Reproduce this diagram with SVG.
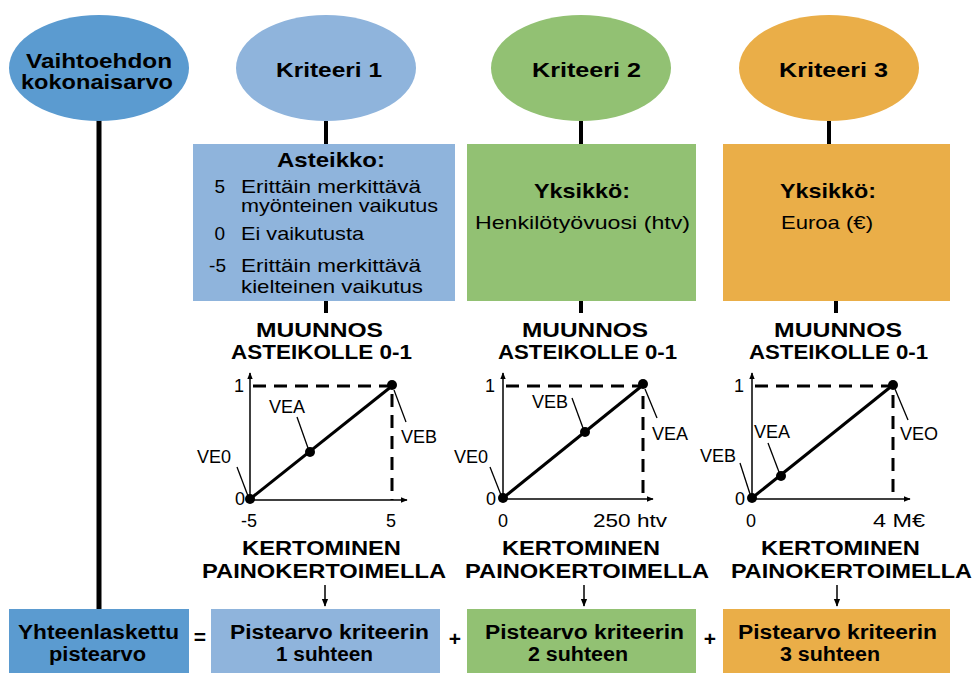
<svg xmlns="http://www.w3.org/2000/svg" width="973" height="673" viewBox="0 0 973 673">
<defs>
<style>
text{font-family:"Liberation Sans",Arial,sans-serif;fill:#000}
.b{font-weight:bold;font-size:21px}
.bb{font-weight:bold;font-size:20px}
.r{font-size:19px}
.g{font-size:18px}
.c0{fill:#5B9BD0}
.c1{fill:#8FB4DC}
.c2{fill:#92C173}
.c3{fill:#EAAE48}
.conn{stroke:#000;stroke-width:4;fill:none}
.ax{stroke:#000;stroke-width:1.5;fill:none}
.dash{stroke:#000;stroke-width:3;stroke-dasharray:13 8;fill:none}
.diag{stroke:#000;stroke-width:3}
.lead{stroke:#000;stroke-width:1.3}
</style>
<marker id="ah" viewBox="0 0 10 10" refX="9" refY="5" markerWidth="7" markerHeight="7" orient="auto" markerUnits="userSpaceOnUse">
<path d="M0,1 L10,5 L0,9 Z" fill="#000"/>
</marker>
<marker id="ah2" viewBox="0 0 10 10" refX="9" refY="5" markerWidth="8" markerHeight="8" orient="auto" markerUnits="userSpaceOnUse">
<path d="M0,1 L10,5 L0,9 Z" fill="#000"/>
</marker>
</defs>

<g id="connectors">
<line class="conn" x1="99" y1="120" x2="99" y2="610" style="stroke-width:5"/>
<line class="conn" x1="326" y1="121" x2="326" y2="144"/>
<line class="conn" x1="326" y1="301" x2="326" y2="313"/>
<line class="conn" x1="581" y1="121" x2="581" y2="144"/>
<line class="conn" x1="581" y1="301" x2="581" y2="313"/>
<line class="conn" x1="829" y1="121" x2="829" y2="144"/>
<line class="conn" x1="836" y1="301" x2="836" y2="313"/>
<line class="ax" x1="325" y1="585" x2="325" y2="606" marker-end="url(#ah2)"/>
<line class="ax" x1="584" y1="585" x2="584" y2="606" marker-end="url(#ah2)"/>
<line class="ax" x1="837" y1="585" x2="837" y2="606" marker-end="url(#ah2)"/>
</g>

<g id="n-vaihtoehdon">
<ellipse class="c0" cx="99" cy="68" rx="90" ry="53"/>
<text class="b" x="26" y="68" textLength="146" lengthAdjust="spacingAndGlyphs">Vaihtoehdon</text>
<text class="b" x="21" y="89" textLength="152" lengthAdjust="spacingAndGlyphs">kokonaisarvo</text>
</g>
<g id="n-kriteeri1">
<ellipse class="c1" cx="326" cy="68" rx="90" ry="53"/>
<text class="b" x="276" y="77" textLength="106" lengthAdjust="spacingAndGlyphs">Kriteeri 1</text>
</g>
<g id="n-kriteeri2">
<ellipse class="c2" cx="581" cy="68" rx="90" ry="53"/>
<text class="b" x="532" y="77" textLength="109" lengthAdjust="spacingAndGlyphs">Kriteeri 2</text>
</g>
<g id="n-kriteeri3">
<ellipse class="c3" cx="829" cy="68" rx="90" ry="53"/>
<text class="b" x="779" y="77" textLength="109" lengthAdjust="spacingAndGlyphs">Kriteeri 3</text>
</g>

<g id="n-asteikko">
<rect class="c1" x="193" y="144" width="262" height="157"/>
<text class="b" x="277" y="167" textLength="108" lengthAdjust="spacingAndGlyphs">Asteikko:</text>
<text class="r" x="225" y="193" text-anchor="end">5</text>
<text class="r" x="241" y="193" textLength="180" lengthAdjust="spacingAndGlyphs">Erittäin merkittävä</text>
<text class="r" x="241" y="212" textLength="197" lengthAdjust="spacingAndGlyphs">myönteinen vaikutus</text>
<text class="r" x="225" y="240" text-anchor="end">0</text>
<text class="r" x="241" y="240" textLength="123" lengthAdjust="spacingAndGlyphs">Ei vaikutusta</text>
<text class="r" x="226" y="272" text-anchor="end">-5</text>
<text class="r" x="241" y="272" textLength="180" lengthAdjust="spacingAndGlyphs">Erittäin merkittävä</text>
<text class="r" x="241" y="293" textLength="182" lengthAdjust="spacingAndGlyphs">kielteinen vaikutus</text>
</g>
<g id="n-yksikko2">
<rect class="c2" x="467" y="144" width="229" height="157"/>
<text class="b" x="534" y="198" textLength="96" lengthAdjust="spacingAndGlyphs">Yksikkö:</text>
<text class="r" x="475" y="229" textLength="215" lengthAdjust="spacingAndGlyphs">Henkilötyövuosi (htv)</text>
</g>
<g id="n-yksikko3">
<rect class="c3" x="723" y="144" width="227" height="157"/>
<text class="b" x="780" y="198" textLength="96" lengthAdjust="spacingAndGlyphs">Yksikkö:</text>
<text class="r" x="781" y="229" textLength="92" lengthAdjust="spacingAndGlyphs">Euroa (€)</text>
</g>

<g id="n-muunnos1">
<text class="b" x="256" y="337" textLength="127" lengthAdjust="spacingAndGlyphs">MUUNNOS</text>
<text class="b" x="231" y="359" textLength="181" lengthAdjust="spacingAndGlyphs">ASTEIKOLLE 0-1</text>
</g>
<g id="n-muunnos2">
<text class="b" x="522" y="337" textLength="126" lengthAdjust="spacingAndGlyphs">MUUNNOS</text>
<text class="b" x="498" y="359" textLength="179" lengthAdjust="spacingAndGlyphs">ASTEIKOLLE 0-1</text>
</g>
<g id="n-muunnos3">
<text class="b" x="774" y="337" textLength="128" lengthAdjust="spacingAndGlyphs">MUUNNOS</text>
<text class="b" x="749" y="359" textLength="179" lengthAdjust="spacingAndGlyphs">ASTEIKOLLE 0-1</text>
</g>

<g id="graph1">
<line class="ax" x1="250" y1="500" x2="250" y2="373" marker-end="url(#ah)"/>
<line class="ax" x1="250" y1="500" x2="407" y2="500" marker-end="url(#ah)"/>
<polyline class="dash" points="253,386 392,386 392,500"/>
<line class="diag" x1="250" y1="499" x2="392" y2="386"/>
<circle cx="250" cy="499" r="5"/>
<circle cx="310" cy="452" r="5"/>
<circle cx="392" cy="385" r="5"/>
<line class="lead" x1="297" y1="417" x2="308" y2="448"/>
<line class="lead" x1="394" y1="390" x2="406" y2="422"/>
<line class="lead" x1="237" y1="467" x2="248" y2="496"/>
<text class="g" x="269" y="413">VEA</text>
<text class="g" x="401" y="443">VEB</text>
<text class="g" x="197" y="463">VE0</text>
<text class="g" x="244" y="392" text-anchor="end">1</text>
<text class="g" x="245" y="505" text-anchor="end">0</text>
<text class="g" x="249" y="527" text-anchor="middle">-5</text>
<text class="g" x="391" y="527" text-anchor="middle">5</text>
</g>
<g id="graph2">
<line class="ax" x1="503" y1="500" x2="503" y2="373" marker-end="url(#ah)"/>
<line class="ax" x1="503" y1="499" x2="653" y2="499" marker-end="url(#ah)"/>
<polyline class="dash" points="506,386 643,386 643,500"/>
<line class="diag" x1="503" y1="498" x2="643" y2="385"/>
<circle cx="503" cy="498" r="5"/>
<circle cx="585" cy="432" r="5"/>
<circle cx="643" cy="384" r="5"/>
<line class="lead" x1="572" y1="398" x2="583" y2="428"/>
<line class="lead" x1="645" y1="389" x2="657" y2="418"/>
<line class="lead" x1="490" y1="467" x2="501" y2="495"/>
<text class="g" x="532" y="408">VEB</text>
<text class="g" x="652" y="440">VEA</text>
<text class="g" x="454" y="463">VE0</text>
<text class="g" x="495" y="392" text-anchor="end">1</text>
<text class="g" x="496" y="505" text-anchor="end">0</text>
<text class="g" x="503" y="527" text-anchor="middle">0</text>
<text class="g" x="593" y="527" textLength="74" lengthAdjust="spacingAndGlyphs">250 htv</text>
</g>
<g id="graph3">
<line class="ax" x1="752" y1="500" x2="752" y2="373" marker-end="url(#ah)"/>
<line class="ax" x1="752" y1="499" x2="910" y2="499" marker-end="url(#ah)"/>
<polyline class="dash" points="755,386 893,386 893,500"/>
<line class="diag" x1="752" y1="498" x2="893" y2="385"/>
<circle cx="752" cy="498" r="5"/>
<circle cx="781" cy="476" r="5"/>
<circle cx="893" cy="385" r="5"/>
<line class="lead" x1="768" y1="443" x2="779" y2="472"/>
<line class="lead" x1="895" y1="389" x2="908" y2="420"/>
<line class="lead" x1="740" y1="463" x2="750" y2="494"/>
<text class="g" x="754" y="438">VEA</text>
<text class="g" x="900" y="440">VEO</text>
<text class="g" x="700" y="462">VEB</text>
<text class="g" x="744" y="392" text-anchor="end">1</text>
<text class="g" x="745" y="505" text-anchor="end">0</text>
<text class="g" x="751" y="527" text-anchor="middle">0</text>
<text class="g" x="873" y="527" textLength="52" lengthAdjust="spacingAndGlyphs">4 M€</text>
</g>

<g id="n-kertominen1">
<text class="b" x="242" y="555" textLength="159" lengthAdjust="spacingAndGlyphs">KERTOMINEN</text>
<text class="b" x="202" y="578" textLength="244" lengthAdjust="spacingAndGlyphs">PAINOKERTOIMELLA</text>
</g>
<g id="n-kertominen2">
<text class="b" x="502" y="555" textLength="158" lengthAdjust="spacingAndGlyphs">KERTOMINEN</text>
<text class="b" x="465" y="578" textLength="244" lengthAdjust="spacingAndGlyphs">PAINOKERTOIMELLA</text>
</g>
<g id="n-kertominen3">
<text class="b" x="761" y="555" textLength="159" lengthAdjust="spacingAndGlyphs">KERTOMINEN</text>
<text class="b" x="731" y="578" textLength="241" lengthAdjust="spacingAndGlyphs">PAINOKERTOIMELLA</text>
</g>

<g id="n-yhteenlaskettu">
<rect class="c0" x="9" y="609" width="180" height="64"/>
<text class="bb" x="18" y="639" textLength="161" lengthAdjust="spacingAndGlyphs">Yhteenlaskettu</text>
<text class="bb" x="49" y="661" textLength="97" lengthAdjust="spacingAndGlyphs">pistearvo</text>
</g>
<g id="op-eq"><text class="b" x="200" y="644" text-anchor="middle">=</text></g>
<g id="n-piste1">
<rect class="c1" x="211" y="609" width="229" height="64"/>
<text class="bb" x="230" y="639" textLength="199" lengthAdjust="spacingAndGlyphs">Pistearvo kriteerin</text>
<text class="bb" x="276" y="661" textLength="97" lengthAdjust="spacingAndGlyphs">1 suhteen</text>
</g>
<g id="op-plus1"><text class="b" x="455" y="646" text-anchor="middle">+</text></g>
<g id="n-piste2">
<rect class="c2" x="467" y="609" width="229" height="64"/>
<text class="bb" x="485" y="639" textLength="199" lengthAdjust="spacingAndGlyphs">Pistearvo kriteerin</text>
<text class="bb" x="528" y="661" textLength="100" lengthAdjust="spacingAndGlyphs">2 suhteen</text>
</g>
<g id="op-plus2"><text class="b" x="710" y="646" text-anchor="middle">+</text></g>
<g id="n-piste3">
<rect class="c3" x="723" y="609" width="227" height="64"/>
<text class="bb" x="738" y="639" textLength="199" lengthAdjust="spacingAndGlyphs">Pistearvo kriteerin</text>
<text class="bb" x="780" y="661" textLength="100" lengthAdjust="spacingAndGlyphs">3 suhteen</text>
</g>
</svg>
